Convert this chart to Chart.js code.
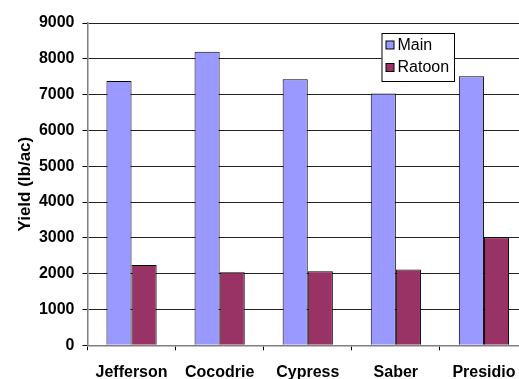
<!DOCTYPE html>
<html>
<head>
<meta charset="utf-8">
<script src="https://cdn.jsdelivr.net/npm/chart.js@4/dist/chart.umd.min.js"></script>
<style>
  html, body { margin: 0; padding: 0; background: #fff; overflow: hidden; width: 519px; height: 379px; }
  #wrap { width: 531px; height: 379px; }
</style>
</head>
<body>
<div id="wrap"><canvas id="c" width="531" height="379"></canvas></div>
<script>
// Rice yield by variety, main crop and ratoon crop
const varieties = ['Jefferson', 'Cocodrie', 'Cypress', 'Saber', 'Presidio'];
const mainYield = [7380, 8200, 7430, 7030, 7510];
const ratoonYield = [2240, 2040, 2070, 2120, 3020];
const yTicks = [0, 1000, 2000, 3000, 4000, 5000, 6000, 7000, 8000, 9000];

const FONT = '"Liberation Sans", Arial, sans-serif';

// Boxed legend drawn inside the plot area, upper right
const boxLegend = {
  id: 'boxLegend',
  afterDraw(chart) {
    const { ctx, chartArea } = chart;
    const x = chartArea.left + 294, y = chartArea.top + 10;
    const w = 72.5, h = 48;
    ctx.save();
    ctx.fillStyle = '#fff';
    ctx.fillRect(x, y, w, h);
    ctx.strokeStyle = '#000';
    ctx.lineWidth = 1;
    ctx.strokeRect(x + 0.5, y + 0.5, w, h);
    ctx.font = '16px ' + FONT;
    ctx.textBaseline = 'middle';
    chart.data.datasets.forEach((ds, i) => {
      const cy = y + 12 + i * 22.5;
      ctx.fillStyle = ds.backgroundColor;
      ctx.fillRect(x + 4.5, cy - 4, 8, 8);
      ctx.strokeStyle = '#000';
      ctx.strokeRect(x + 4.5, cy - 4, 8, 8);
      ctx.fillStyle = '#000';
      ctx.fillText(ds.label, x + 16, cy + 0.5);
    });
    ctx.restore();
  }
};

new Chart(document.getElementById('c'), {
  type: 'bar',
  data: {
    labels: varieties,
    datasets: [
      { label: 'Main', data: mainYield, backgroundColor: '#9999FF', borderColor: '#000', borderWidth: 1 },
      { label: 'Ratoon', data: ratoonYield, backgroundColor: '#993366', borderColor: '#000', borderWidth: 1 }
    ]
  },
  options: {
    responsive: false,
    animation: false,
    events: [],
    layout: { padding: { left: 0, top: 23, right: 3, bottom: 0 } },
    datasets: { bar: { categoryPercentage: 0.57, barPercentage: 1.0 } },
    plugins: { legend: { display: false }, tooltip: { enabled: false } },
    scales: {
      x: {
        offset: true,
        grid: { display: true, drawOnChartArea: false, drawTicks: true, tickLength: 5, color: '#000', offset: true },
        border: { color: '#808080', width: 1.5 },
        ticks: { color: '#000', font: { family: FONT, size: 16, weight: 'bold' }, padding: 13, maxRotation: 0, autoSkip: false },
        afterFit(s) { s.height = 33.7; }
      },
      y: {
        min: 0, max: 9000,
        afterBuildTicks(s) { s.ticks = yTicks.map(v => ({ value: v })); },
        grid: { color: '#222', lineWidth: 1, tickLength: 5, tickColor: '#000' },
        border: { color: '#808080', width: 1.5 },
        ticks: {
          color: '#000', font: { family: FONT, size: 16, weight: 'bold' }, padding: 8,
          callback: v => String(v)
        },
        title: { display: true, text: 'Yield (lb/ac)', color: '#000', font: { family: FONT, size: 17, weight: 'bold' }, padding: { top: 15, bottom: 4 } },
        afterFit(s) { s.width = 87.5; }
      }
    }
  },
  plugins: [boxLegend]
});
</script>
</body>
</html>
